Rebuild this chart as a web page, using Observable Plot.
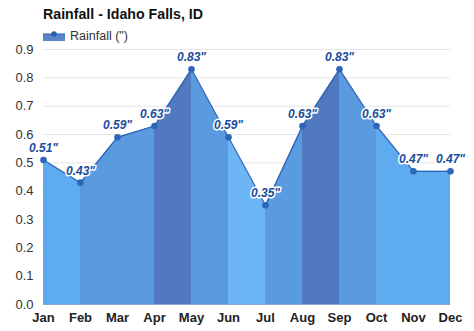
<!DOCTYPE html>
<html>
<head>
<meta charset="utf-8">
<script src="https://cdn.jsdelivr.net/npm/d3@7"></script>
<script src="https://cdn.jsdelivr.net/npm/@observablehq/plot@0.6"></script>
<style>
  html, body { margin: 0; padding: 0; background: #fff; }
  #wrap { position: relative; width: 474px; height: 331px; font-family: "Liberation Sans", Arial, sans-serif; }
  #title { position: absolute; left: 43px; top: 7px; font-size: 14.2px; font-weight: bold; line-height: 15px; color: #111; white-space: nowrap; }
  #legend { position: absolute; left: 43px; top: 29px; height: 14px; display: flex; align-items: center; font-size: 12.5px; color: #333; white-space: nowrap; }
  #legend svg { margin-right: 5px; }
  #chart { position: absolute; left: 0; top: 0; }
</style>
</head>
<body>
<div id="wrap">
  <div id="chart"></div>
  <div id="title">Rainfall - Idaho Falls, ID</div>
  <div id="legend"><svg width="22" height="10"><rect x="0" y="3" width="22" height="7" fill="#5b86c9"></rect><line x1="0" x2="22" y1="3" y2="3" stroke="#2c5fae" stroke-width="1"></line><circle cx="11" cy="3" r="2.8" fill="#2d5fae"></circle></svg><span>Rainfall (")</span></div>
</div>
<script>
const months = ["Jan","Feb","Mar","Apr","May","Jun","Jul","Aug","Sep","Oct","Nov","Dec"];
const rainfall = [0.51, 0.43, 0.59, 0.63, 0.83, 0.59, 0.35, 0.63, 0.83, 0.63, 0.47, 0.47];
// shade class of each segment between consecutive months (Jan-Feb ... Nov-Dec)
const segmentShade = ["light","mid","mid","dark","mid","lighter","mid","dark","mid","light","light"];
const yTicks = [0, 0.1, 0.2, 0.3, 0.4, 0.5, 0.6, 0.7, 0.8, 0.9];

const shadeDomain = ["lighter","light","mid","dark"];
const shadeRange = ["#6cb6f5","#5eabef","#5a9be0","#5079bf"];

const points = months.map((m, i) => ({i, month: m, value: rainfall[i]}));
const segs = [];
segmentShade.forEach((s, k) => {
  segs.push({seg: k, shade: s, i: k, value: rainfall[k]});
  segs.push({seg: k, shade: s, i: k + 1, value: rainfall[k + 1]});
});

const chart = Plot.plot({
  width: 474,
  height: 331,
  marginLeft: 43,
  marginRight: 24,
  marginTop: 49,
  marginBottom: 27,
  style: {fontFamily: "'Liberation Sans', Arial, sans-serif", background: "transparent", overflow: "visible"},
  x: {domain: [0, 11], axis: null, label: null},
  y: {domain: [0, 0.9], axis: null, label: null},
  color: {domain: shadeDomain, range: shadeRange},
  marks: [
    Plot.gridY(yTicks, {stroke: "#e6e6e6", strokeOpacity: 1}),
    Plot.areaY(segs, {x: "i", y1: 0, y2: "value", z: "seg", fill: "shade", curve: "linear"}),
    Plot.ruleY([0], {stroke: "#8aa6cc", strokeWidth: 1}),
    Plot.lineY(points, {x: "i", y: "value", stroke: "#2c62b4", strokeWidth: 1.2}),
    Plot.dot(points, {x: "i", y: "value", r: 3.3, fill: "#2c66ba"}),
    Plot.text(points, {x: "i", y: "value", text: d => d.value.toFixed(2) + '"', dy: -12,
      fill: "#1b4c9c", stroke: "white", strokeWidth: 3, paintOrder: "stroke", strokeLinejoin: "round",
      fontSize: 12, fontWeight: "bold", fontStyle: "italic"}),
    Plot.axisY(yTicks, {tickSize: 0, tickPadding: 10, tickFormat: d3.format(".1f"), fontSize: 13, fill: "#333", textAnchor: "end", label: null}),
    Plot.axisX(d3.range(12), {tickSize: 0, tickPadding: 8, tickFormat: i => months[i], fontSize: 13, fontWeight: "bold", fill: "#222", label: null})
  ]
});
document.getElementById("chart").appendChild(chart);
</script>
</body>
</html>
